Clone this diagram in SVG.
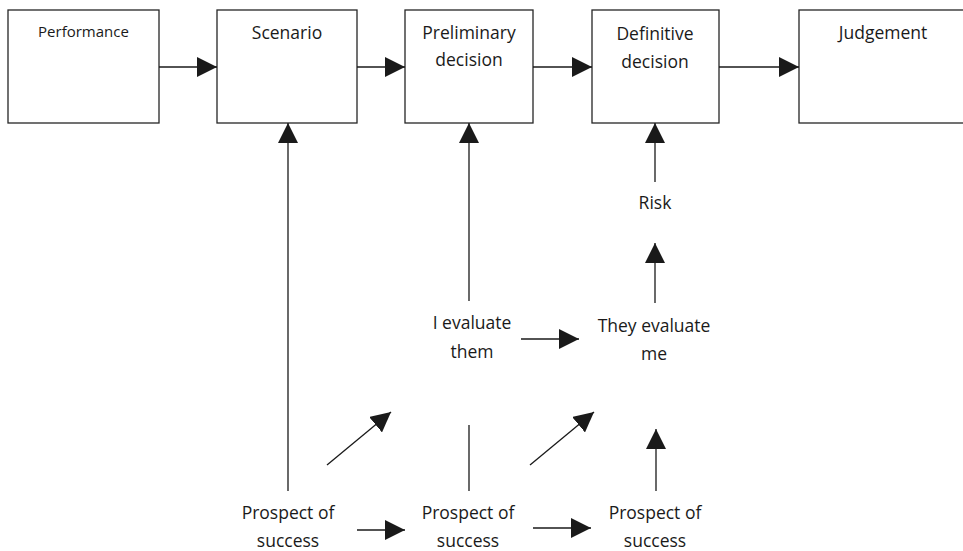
<svg xmlns="http://www.w3.org/2000/svg" width="963" height="551" viewBox="0 0 963 551">
<style>
.box{fill:#fff;stroke:#262626;stroke-width:1.3}
.t{font-family:"Open Sans","Liberation Sans",sans-serif;font-size:17.5px;fill:#1a1a1a;text-anchor:middle}
.s{font-size:15px}
.c{stroke:#1a1a1a;stroke-width:1.3;fill:none}
</style>
<defs>
<marker id="ah" markerUnits="userSpaceOnUse" markerWidth="20" markerHeight="20" viewBox="0 0 20 20" refX="20" refY="10" orient="auto">
<path d="M0,0 L20,10 L0,20 Z" fill="#1a1a1a"/>
</marker>
</defs>
<rect width="963" height="551" fill="#fff"/>
<g id="performance"><rect class="box" x="8" y="10" width="151" height="113"/><text class="t s" x="83.5" y="37">Performance</text></g>
<g id="scenario"><rect class="box" x="217" y="10" width="140" height="113"/><text class="t" x="287" y="39">Scenario</text></g>
<g id="preliminary"><rect class="box" x="405" y="10" width="128" height="113"/><text class="t" x="469" y="39">Preliminary</text><text class="t" x="469" y="66">decision</text></g>
<g id="definitive"><rect class="box" x="592" y="10" width="127" height="113"/><text class="t" x="655" y="40">Definitive</text><text class="t" x="655" y="68">decision</text></g>
<g id="judgement"><rect class="box" x="799" y="10" width="170" height="113"/><text class="t" x="883" y="39">Judgement</text></g>
<g id="risk"><text class="t" x="655" y="209">Risk</text></g>
<g id="ievaluate"><text class="t" x="472" y="329">I evaluate</text><text class="t" x="472" y="358">them</text></g>
<g id="theyevaluate"><text class="t" x="654" y="332">They evaluate</text><text class="t" x="654" y="360">me</text></g>
<g id="prospect1"><text class="t" x="288" y="519">Prospect of</text><text class="t" x="288" y="547">success</text></g>
<g id="prospect2"><text class="t" x="468" y="519">Prospect of</text><text class="t" x="468" y="547">success</text></g>
<g id="prospect3"><text class="t" x="655" y="519">Prospect of</text><text class="t" x="655" y="547">success</text></g>
<g id="connectors">
<line class="c" x1="159" y1="67" x2="217" y2="67" marker-end="url(#ah)"/>
<line class="c" x1="357" y1="67" x2="405" y2="67" marker-end="url(#ah)"/>
<line class="c" x1="533" y1="67" x2="592" y2="67" marker-end="url(#ah)"/>
<line class="c" x1="719" y1="67" x2="799" y2="67" marker-end="url(#ah)"/>
<line class="c" x1="288" y1="491" x2="288" y2="123" marker-end="url(#ah)"/>
<line class="c" x1="469" y1="301" x2="469" y2="123" marker-end="url(#ah)"/>
<line class="c" x1="655" y1="182" x2="655" y2="123" marker-end="url(#ah)"/>
<line class="c" x1="655" y1="303" x2="655" y2="243" marker-end="url(#ah)"/>
<line class="c" x1="521" y1="339" x2="579" y2="339" marker-end="url(#ah)"/>
<line class="c" x1="327" y1="465" x2="391" y2="412" marker-end="url(#ah)"/>
<line class="c" x1="469" y1="425" x2="469" y2="491"/>
<line class="c" x1="530" y1="465" x2="594" y2="412" marker-end="url(#ah)"/>
<line class="c" x1="656" y1="491" x2="656" y2="429" marker-end="url(#ah)"/>
<line class="c" x1="357" y1="530" x2="405" y2="530" marker-end="url(#ah)"/>
<line class="c" x1="533" y1="528" x2="591" y2="528" marker-end="url(#ah)"/>
</g>
</svg>
